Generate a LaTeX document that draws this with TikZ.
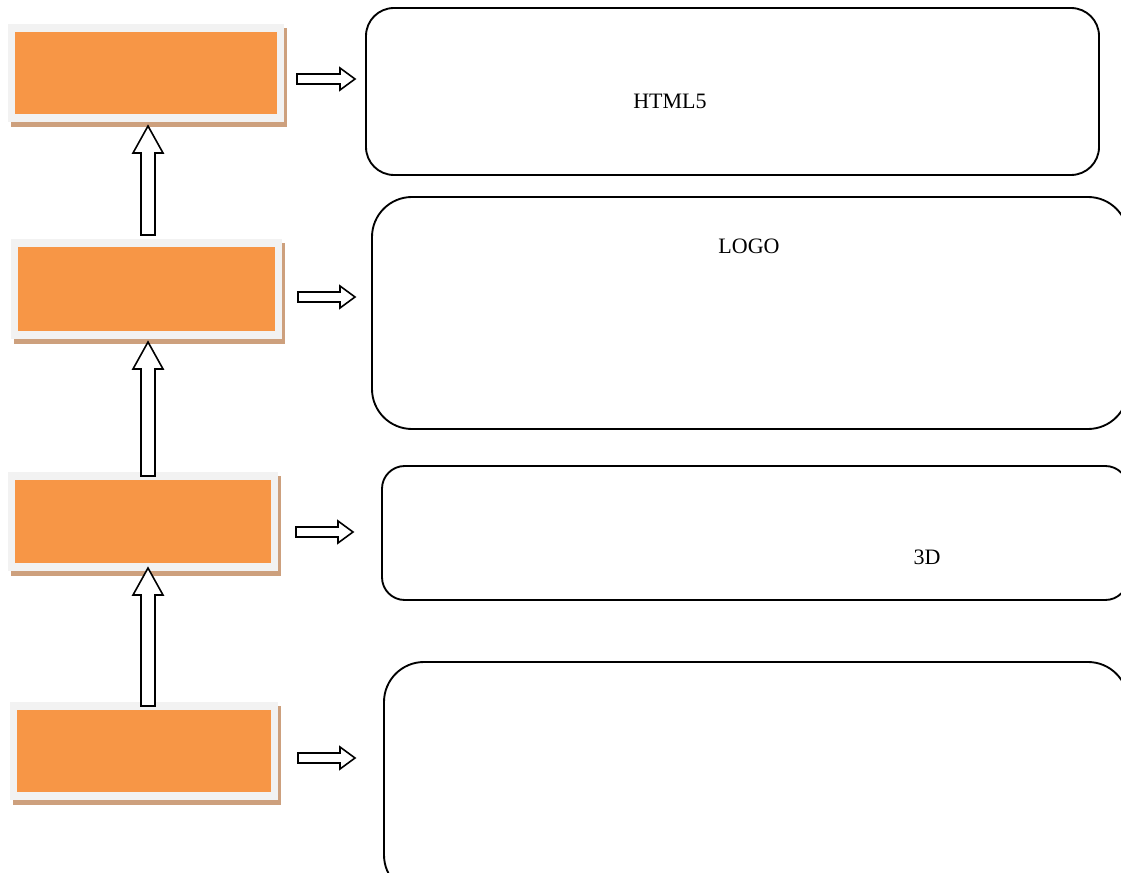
\documentclass[tikz,border=0pt]{standalone}
\usepackage{fontspec}
\setmainfont{Liberation Serif}
\definecolor{orng}{RGB}{247,150,70}
\definecolor{frm}{RGB}{242,242,242}
\definecolor{shd}{RGB}{205,160,125}
\newcommand\myUpArrow[3]{% x, tip y, bottom y
  \draw[hollow] (#1-7,#3) -- (#1-7,#2+27) -- (#1-15,#2+27) -- (#1,#2) -- (#1+15,#2+27) -- (#1+7,#2+27) -- (#1+7,#3) -- cycle;}
\newcommand\myRightArrow[3]{% y, left x, tip x
  \draw[hollow] (#2,#1-5) -- (#3-15,#1-5) -- (#3-15,#1-11) -- (#3,#1) -- (#3-15,#1+11) -- (#3-15,#1+5) -- (#2,#1+5) -- cycle;}
\newcommand\myStage[5]{% name, x1,y1,x2,y2 of gray frame
  \fill[shd] (#2+3,#3+4) rectangle (#4+3,#5+5);
  \fill[frm] (#2,#3) rectangle (#4,#5);
  \node[stagebox, fit={(#2+7,#3+8) (#4-7,#5-8)}] (#1) {};}
\usetikzlibrary{fit}
\begin{document}
\begin{tikzpicture}[x=0.75pt,y=-0.75pt,
  hollow/.style={draw=black, fill=white, line width=1.2pt, line join=miter},
  panel/.style={draw=black, line width=1.4pt, inner sep=0pt},
  stagebox/.style={fill=orng, inner sep=0pt},
  lbl/.style={font=\fontsize{16.5}{19}\selectfont, inner sep=0pt}]
\useasboundingbox (0,0) rectangle (1121,873);
\clip (0,0) rectangle (1121,873);
% stages
\myStage{s1}{8}{24}{284}{122}
\myStage{s2}{11}{239}{282}{339}
\myStage{s3}{8}{472}{278}{571}
\myStage{s4}{10}{702}{278}{800}
% panels
\node[panel, rounded corners=21pt, minimum width=549.75pt, minimum height=125.25pt] (p1) at (732.5,91.5) {};
\node[panel, rounded corners=30pt, minimum width=567pt, minimum height=174pt] (p2) at (750,313) {};
\node[panel, rounded corners=17pt, minimum width=559.5pt, minimum height=100.5pt] (p3) at (755,533) {};
\node[panel, rounded corners=30pt, minimum width=558pt, minimum height=174.75pt] (p4) at (756,778.5) {};
% labels
\node[lbl] (t1) at (670,101) {HTML5};
\node[lbl] (t2) at (749,246) {LOGO};
\node[lbl] (t3) at (927,557) {3D};
% up arrows
\myUpArrow{148}{126}{235}
\myUpArrow{148}{342}{476}
\myUpArrow{148}{568}{706}
% right arrows
\myRightArrow{79}{297}{355}
\myRightArrow{297}{298}{355}
\myRightArrow{532}{296}{353}
\myRightArrow{758}{298}{355}
\end{tikzpicture}
\end{document}
